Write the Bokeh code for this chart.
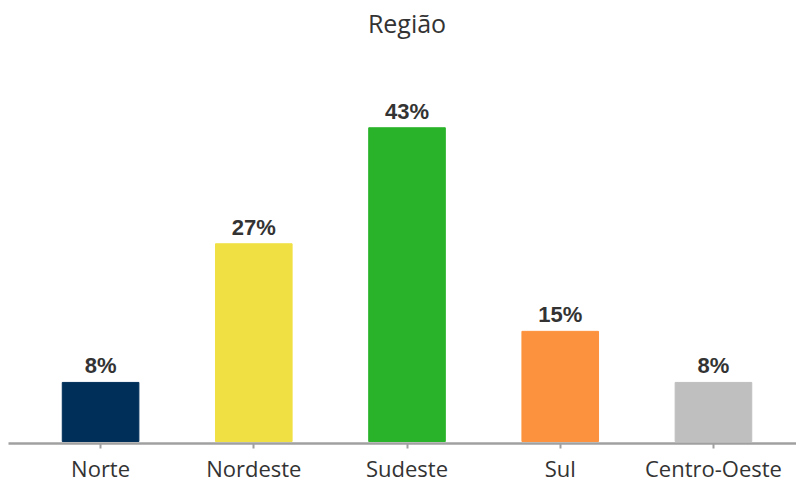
from bokeh.plotting import figure
from bokeh.models import ColumnDataSource, Range1d, FixedTicker, LabelSet, Label
from bokeh.core.properties import value
from bokeh.embed import file_html
from bokeh.resources import INLINE

title_text = "Região"
categories = ["Norte", "Nordeste", "Sudeste", "Sul", "Centro-Oeste"]
values = [8.1, 27.1, 43.0, 15.1, 8.1]
colors = ["#00305A", "#F0E044", "#29B32A", "#FD923E", "#BFBFBF"]
labels = [f"{round(v)}%" for v in values]
positions = list(range(len(categories)))

source = ColumnDataSource(dict(x=positions, top=values, color=colors, label=labels))

p = figure(width=796, height=488, output_backend="svg", toolbar_location=None,
           x_range=Range1d(-0.601, 4.542), y_range=Range1d(-0.27, 60.44),
           min_border_left=8, min_border_right=0, min_border_bottom=45, min_border_top=0)

p.vbar(x="x", top="top", bottom=0, width=0.5, color="color", source=source)

labels_set = LabelSet(x="x", y="top", text="label", source=source, text_align="center",
                      text_baseline="alphabetic", y_offset=9, text_font=value("Liberation Sans"),
                      text_font_style="bold", text_font_size="22px", text_color="#333333")
p.add_layout(labels_set)

# chart title, in the empty top part of the frame, centred over the middle category
title = Label(x=2.0, y=57.3, text=title_text, text_align="center",
              text_baseline="alphabetic", text_font="Open Sans", text_font_size="25px",
              text_color="#333333")
p.add_layout(title)

p.yaxis.visible = False
p.xgrid.visible = False
p.ygrid.visible = False
p.outline_line_color = None

xa = p.xaxis[0]
xa.ticker = FixedTicker(ticks=positions)
xa.major_label_overrides = {i: c for i, c in enumerate(categories)}
xa.major_label_text_font = "Open Sans"
xa.major_label_text_font_size = "22px"
xa.major_label_text_color = "#333333"
xa.major_label_standoff = 4
xa.axis_line_color = "#A0A0A0"
xa.axis_line_width = 2.5
xa.major_tick_line_color = "#A0A0A0"
xa.major_tick_line_width = 2
xa.major_tick_in = 0
xa.major_tick_out = 5
xa.minor_tick_line_color = None

open("out.html", "w").write(file_html(p, INLINE))
